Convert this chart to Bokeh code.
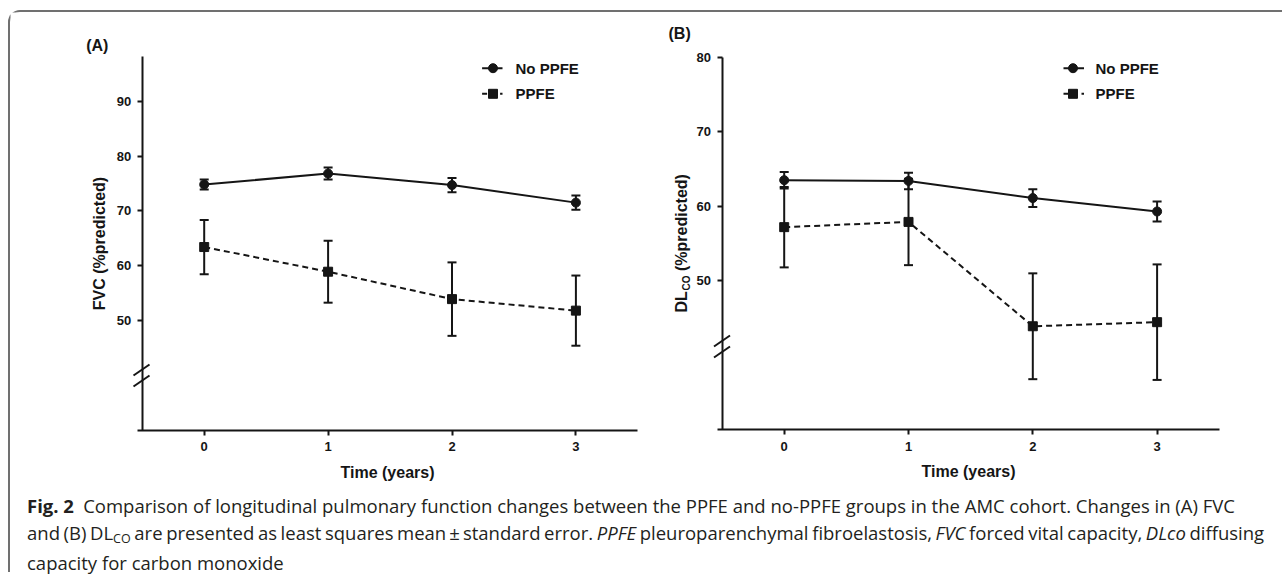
import math
from bokeh.plotting import figure
from bokeh.models import ColumnDataSource, Whisker, TeeHead, FixedTicker, Label, Div
from bokeh.layouts import column, row
from bokeh.core.properties import value
from bokeh.embed import file_html
from bokeh.resources import INLINE

# ---------------- data ----------------
years = [0, 1, 2, 3]
series_labels = ["No PPFE", "PPFE"]
fvc_no_ppfe = [74.8, 76.8, 74.7, 71.5]
fvc_no_ppfe_se = [0.9, 1.1, 1.3, 1.3]
fvc_ppfe = [63.4, 58.9, 53.9, 51.8]
fvc_ppfe_se = [4.95, 5.65, 6.7, 6.4]
dlco_no_ppfe = [63.5, 63.4, 61.1, 59.3]
dlco_no_ppfe_se = [1.1, 1.1, 1.2, 1.35]
dlco_ppfe = [57.2, 57.9, 43.9, 44.45]
dlco_ppfe_se = [5.4, 5.8, 7.1, 7.75]
x_ticks = [0, 1, 2, 3]
fvc_ticks = [50, 60, 70, 80, 90]
dlco_ticks = [50, 60, 70, 80]

FONT = "Liberation Sans"
INK = "#151515"
FIG_Y0, FIG_H = 12, 476


class Panel:
    """Figure whose frame covers the whole panel; axes are placed with fixed_location."""

    def __init__(self, fig_x0, width, px_x0, ux, py_ref, v_ref, uy, y_top, yticks):
        self.fx0, self.px_x0, self.ux = fig_x0, px_x0, ux
        self.py_ref, self.v_ref, self.uy = py_ref, v_ref, uy
        xr = (self.dx(fig_x0), self.dx(fig_x0 + width))
        yr = (self.dy(FIG_Y0 + FIG_H), self.dy(FIG_Y0))
        p = figure(width=width, height=FIG_H, x_range=xr, y_range=yr,
                   output_backend="svg", toolbar_location=None,
                   min_border=0, min_border_left=0, min_border_right=0,
                   min_border_top=0, min_border_bottom=0)
        p.outline_line_color = None
        p.grid.visible = False
        p.xaxis.ticker = FixedTicker(ticks=x_ticks)
        p.yaxis.ticker = FixedTicker(ticks=yticks)
        p.xaxis.fixed_location = 30
        p.yaxis.fixed_location = -0.5
        p.xaxis.bounds = (-0.54, 3.5)
        p.yaxis.bounds = (30, y_top)
        for ax in p.axis:
            ax.axis_line_width = 2
            ax.axis_line_color = INK
            ax.major_tick_line_width = 2
            ax.major_tick_line_color = INK
            ax.major_tick_out = 5
            ax.major_tick_in = 0
            ax.minor_tick_line_color = None
            ax.major_label_text_font = FONT
            ax.major_label_text_font_style = "bold"
            ax.major_label_text_font_size = "13px"
            ax.major_label_text_color = INK
        p.yaxis.major_label_standoff = 6
        p.xaxis.major_label_standoff = 7
        p.xaxis.axis_label = "Time (years)"
        p.xaxis.axis_label_text_font = FONT
        p.xaxis.axis_label_text_font_style = "bold"
        p.xaxis.axis_label_text_font_size = "16px"
        p.xaxis.axis_label_text_color = INK
        p.xaxis.axis_label_standoff = 9
        self.p = p

    def dx(self, px):
        return (px - self.px_x0) / self.ux

    def dy(self, py):
        return self.v_ref + (self.py_ref - py) / self.uy

    def draw(self, no_vals, no_se, pp_vals, pp_se):
        p = self.p
        src_no = ColumnDataSource(dict(x=years, y=no_vals,
                                       lo=[v - e for v, e in zip(no_vals, no_se)],
                                       hi=[v + e for v, e in zip(no_vals, no_se)]))
        src_pp = ColumnDataSource(dict(x=years, y=pp_vals,
                                       lo=[v - e for v, e in zip(pp_vals, pp_se)],
                                       hi=[v + e for v, e in zip(pp_vals, pp_se)]))
        for src in (src_pp, src_no):
            p.add_layout(Whisker(source=src, base="x", lower="lo", upper="hi",
                                 line_width=2, line_color=INK,
                                 lower_head=TeeHead(size=9, line_width=2, line_color=INK),
                                 upper_head=TeeHead(size=9, line_width=2, line_color=INK)))
        p.line("x", "y", source=src_pp, line_width=2, line_color=INK, line_dash="6 4")
        p.scatter("x", "y", source=src_pp, marker="square", size=9, fill_color=INK, line_color=INK)
        p.line("x", "y", source=src_no, line_width=2, line_color=INK)
        p.scatter("x", "y", source=src_no, marker="circle", size=9, fill_color=INK, line_color=INK)

    def axis_break(self, cx, cy):
        # two short slashes across the y axis (pixel geometry)
        x0s, y0s, x1s, y1s = [], [], [], []
        for off in (-5.5, 5.5):
            x0s.append(self.dx(cx - 8)); y0s.append(self.dy(cy + off + 5.5))
            x1s.append(self.dx(cx + 8)); y1s.append(self.dy(cy + off - 5.5))
        self.p.segment(x0=x0s, y0=y0s, x1=x1s, y1=y1s, line_width=2, line_color=INK)

    def legend(self, lx0, lx1, lxm, ltx, ly1, ly2):
        p = self.p
        X0, X1, XM, TX = self.dx(lx0), self.dx(lx1), self.dx(lxm), self.dx(ltx)
        Y1, Y2 = self.dy(ly1), self.dy(ly2)
        p.line([X0, X1], [Y1, Y1], line_width=2, line_color=INK)
        p.scatter([XM], [Y1], marker="circle", size=9, fill_color=INK, line_color=INK)
        p.line([X0, X1], [Y2, Y2], line_width=2, line_color=INK, line_dash="5 4")
        p.scatter([XM], [Y2], marker="square", size=9, fill_color=INK, line_color=INK)
        p.text(x=[TX, TX], y=[Y1, Y2], text=series_labels, text_font=value(FONT),
               text_font_style="bold", text_font_size="15px", text_baseline="middle",
               text_color=INK)

    def label(self, px, py, text, size="16px", **kw):
        self.p.add_layout(Label(x=self.dx(px), y=self.dy(py), text=text, text_font=FONT,
                                text_font_style="bold", text_font_size=size,
                                text_color=INK, **kw))


# ---- Panel A ----
A = Panel(10, 630, 203.7, 123.9, 320.0, 50.0, 5.4825, 98.2, fvc_ticks)
A.draw(fvc_no_ppfe, fvc_no_ppfe_se, fvc_ppfe, fvc_ppfe_se)
A.axis_break(141.0, 375.0)
A.legend(481.6, 502.0, 492.5, 515.0, 67.7, 93.3)
A.p.yaxis.axis_label = "FVC (%predicted)"
A.p.yaxis.axis_label_text_font = FONT
A.p.yaxis.axis_label_text_font_style = "bold"
A.p.yaxis.axis_label_text_font_size = "16px"
A.p.yaxis.axis_label_text_color = INK
A.p.yaxis.axis_label_standoff = 6
A.label(85.7, 45.0, "(A)", text_baseline="middle")

# ---- Panel B ----
B = Panel(640, 642, 783.7, 124.3, 280.3, 50.0, 7.453, 80.0, dlco_ticks)
B.draw(dlco_no_ppfe, dlco_no_ppfe_se, dlco_ppfe, dlco_ppfe_se)
B.axis_break(721.5, 346.0)
B.legend(1063.0, 1083.5, 1072.5, 1095.0, 67.7, 93.3)
B.label(668.0, 33.0, "(B)", text_baseline="middle")
for txt, size, py, cx in (("DL", "16px", 312.0, 681.0),
                          ("CO", "10px", 290.0, 685.5),
                          ("(%predicted)", "16px", 270.5, 681.0)):
    B.label(cx, py, txt, size=size, angle=math.pi / 2, text_align="left",
            text_baseline="middle")

caption_html = (
    '<div style="font-family: \'Open Sans\', sans-serif; font-size: 18.5px; line-height: 27px; '
    'padding: 3.5px 0 0 17px; color: #231f20; white-space: nowrap;">'
    '<b>Fig.&nbsp;2</b>&ensp;Comparison of longitudinal pulmonary function changes between the PPFE and '
    'no-PPFE groups in the AMC cohort. Changes in (A) FVC<br>'
    '<span style="word-spacing: -1.2px;">'
    'and (B) DL<span style="font-size: 12.5px; position: relative; top: 3px;">CO</span> are presented as least squares '
    'mean&thinsp;&plusmn;&thinsp;standard error. '
    '<i>PPFE</i> pleuroparenchymal fibroelastosis, <i>FVC</i> forced vital capacity, '
    '<i>DLco</i> diffusing</span><br>capacity for carbon monoxide</div>'
)
caption = Div(text=caption_html, width=1272, height=84, margin=0)

layout = column(row(A.p, B.p), caption,
                styles={"border-top": "2px solid #707070", "border-left": "2px solid #707070",
                        "border-top-left-radius": "12px", "margin-left": "8px",
                        "margin-top": "10px"})

with open("out.html", "w") as f:
    f.write(file_html(layout, INLINE))
